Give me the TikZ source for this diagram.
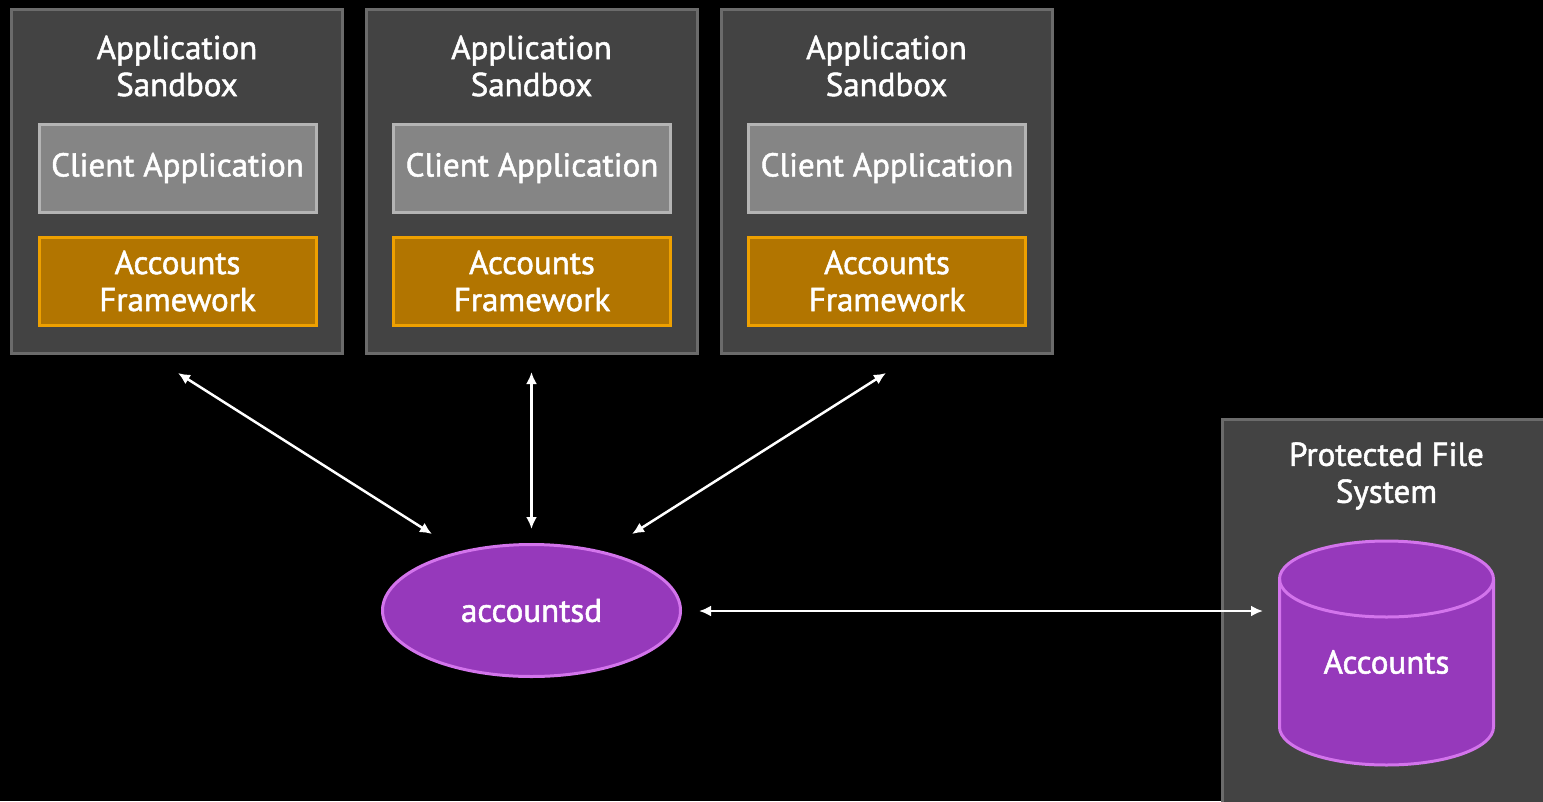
\documentclass[tikz,border=0pt]{standalone}
\usepackage{fontspec}
\setmainfont{PT Sans}[FakeBold=1.6,BoldFont={PT Sans}]
\usetikzlibrary{arrows.meta,shapes.geometric}
\definecolor{sbfill}{HTML}{434343}
\definecolor{sbline}{HTML}{6B6B6B}
\definecolor{clfill}{HTML}{858585}
\definecolor{clline}{HTML}{B4B4B4}
\definecolor{fwfill}{HTML}{B27500}
\definecolor{fwline}{HTML}{EEA000}
\definecolor{pfill}{HTML}{9639BB}
\definecolor{pline}{HTML}{D374EC}
\tikzset{
  lbl/.style={font=\fontsize{33}{37}\selectfont},
  sandbox/.style={draw=sbline, fill=sbfill, line width=3pt, minimum width=331pt, minimum height=344pt, inner sep=0pt},
  title/.style={text=white, align=center, lbl, inner sep=0pt},
  clientbox/.style={draw=clline, fill=clfill, line width=3pt, minimum width=277pt, minimum height=88pt, inner sep=0pt, text=white, lbl},
  fwbox/.style={draw=fwline, fill=fwfill, line width=3pt, minimum width=277pt, minimum height=88pt, inner sep=0pt, text=white, align=center, lbl},
  daemon/.style={ellipse, draw=pline, fill=pfill, line width=3pt, minimum width=298pt, minimum height=132pt, inner sep=0pt, text=white, lbl},
  arr/.style={draw=white, line width=2.5pt, {Latex[length=12pt,width=11pt]}-{Latex[length=12pt,width=11pt]}},
}
\begin{document}
\begin{tikzpicture}[x=1pt,y=-1pt]
\fill[black] (0,0) rectangle (1543,801);
\useasboundingbox (0,0) rectangle (1543,801);

% sandboxes
\foreach \i/\cx in {1/177, 2/531.5, 3/886.5} {
  \node[sandbox] (sb\i) at (\cx,181.5) {};
  \node[title] (sbt\i) at (\cx,66) {Application\\Sandbox};
  \node[clientbox] (cl\i) at (\cx+0.5,168) {Client Application};
  \node[fwbox] (fw\i) at (\cx+0.5,281) {Accounts\\Framework};
}

% protected file system
\node[draw=sbline, fill=sbfill, line width=3pt, minimum width=340pt, minimum height=400pt, inner sep=0pt, anchor=north west] (pfs) at (1221,418) {};
\node[title] (pfst) at (1386.5,476) {Protected File\\System};

% cylinder
\path[draw=pline, fill=pfill, line width=3pt]
  (1279.5,579) -- (1279.5,727) arc (180:0:107 and 38) -- (1493.5,579) arc (0:-180:107 and 38) -- cycle;
\draw[pline, line width=3pt] (1279.5,579) arc (180:0:107 and 38);
\node[text=white, lbl, inner sep=0pt] (db) at (1386.5,662) {Accounts};

% daemon
\node[daemon] (ad) at (531.5,610.5) {accountsd};

% connector end points
\coordinate (e1a) at (178,373);
\coordinate (e1b) at (432,534);
\coordinate (e2a) at (531.5,372);
\coordinate (e2b) at (531.5,529);
\coordinate (e3a) at (886,373);
\coordinate (e3b) at (632,534);
\coordinate (e4a) at (699,611);
\coordinate (e4b) at (1263,611);

\draw[arr] (e1a) -- (e1b);
\draw[arr] (e2a) -- (e2b);
\draw[arr] (e3a) -- (e3b);
\draw[arr] (e4a) -- (e4b);
\end{tikzpicture}
\end{document}
